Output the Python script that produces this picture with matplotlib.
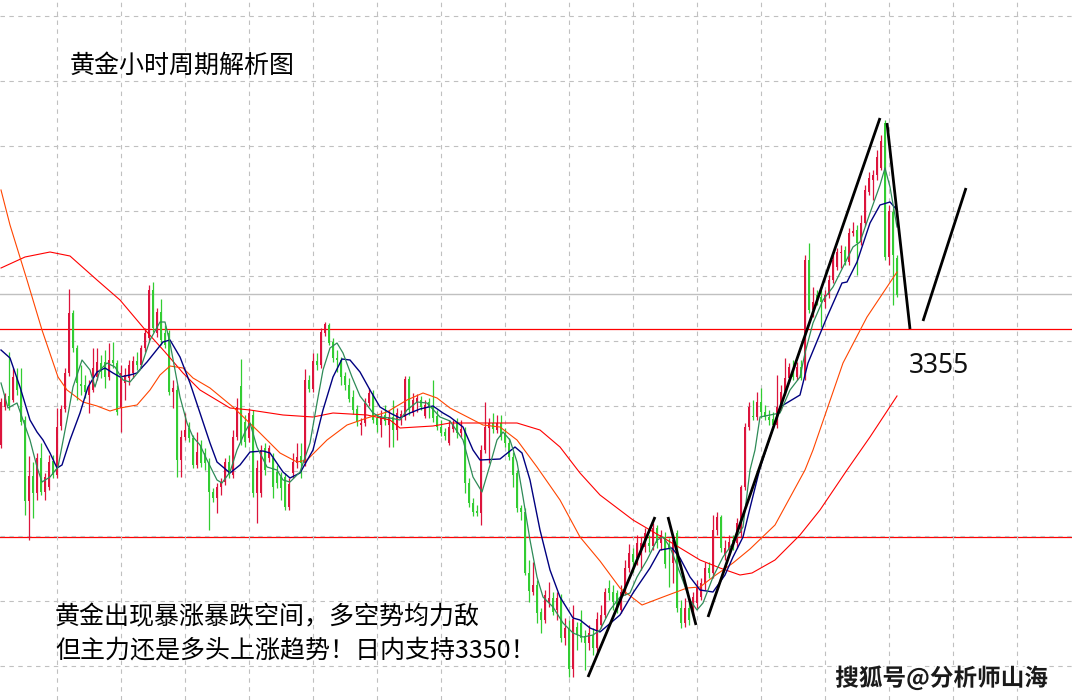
import numpy as np
import matplotlib.pyplot as plt
from matplotlib import patheffects

plt.rcParams['font.family'] = ['Noto Sans CJK SC', 'DejaVu Sans']

# hourly gold candles (red = up, green = down)
opens = [
    3343.5, 3347.3, 3348.4, 3348.0, 3350.4, 3349.0, 3346.0, 3337.9, 3340.4, 3338.7,
    3342.2, 3338.8, 3339.3, 3341.9, 3340.5, 3345.4, 3347.1, 3350.7, 3356.7, 3353.2,
    3349.6, 3349.5, 3348.5, 3349.0, 3350.3, 3351.7, 3351.8, 3350.3, 3352.0, 3351.7,
    3347.2, 3349.7, 3350.2, 3350.7, 3351.9, 3351.5, 3353.2, 3354.2, 3359.0, 3354.7,
    3356.8, 3354.7, 3354.7, 3348.8, 3349.0, 3342.0, 3344.3, 3345.2, 3344.2, 3341.5,
    3343.5, 3342.7, 3341.7, 3338.8, 3338.2, 3339.3, 3339.8, 3341.8, 3340.5, 3344.3,
    3349.4, 3345.8, 3344.2, 3346.5, 3338.7, 3338.7, 3343.2, 3342.2, 3342.2, 3340.8,
    3340.3, 3340.3, 3337.3, 3340.7, 3341.7, 3342.4, 3341.7, 3350.0, 3349.1, 3351.9,
    3351.5, 3354.7, 3355.5, 3353.8, 3352.2, 3352.0, 3350.4, 3349.5, 3348.3, 3347.1,
    3345.5, 3345.7, 3347.7, 3348.7, 3346.2, 3345.5, 3346.5, 3345.5, 3346.3, 3345.0,
    3346.3, 3346.3, 3350.1, 3346.7, 3347.8, 3348.0, 3346.4, 3347.8, 3347.3, 3346.4,
    3345.3, 3344.8, 3343.7, 3345.1, 3345.7, 3344.7, 3345.0, 3339.7, 3337.7, 3336.9,
    3336.7, 3343.0, 3345.2, 3345.7, 3345.0, 3345.7, 3344.7, 3343.7, 3342.3, 3340.7,
    3337.2, 3336.8, 3330.7, 3328.8, 3329.5, 3326.8, 3326.0, 3327.7, 3328.2, 3327.0,
    3328.2, 3324.2, 3325.2, 3321.1, 3325.3, 3325.7, 3324.4, 3323.7, 3324.5, 3323.2,
    3325.5, 3326.5, 3329.2, 3328.8, 3328.7, 3327.0, 3328.8, 3331.2, 3332.6, 3332.2,
    3332.5, 3333.3, 3333.7, 3333.4, 3335.2, 3333.7, 3334.3, 3333.5, 3331.7, 3334.7,
    3327.2, 3325.7, 3327.2, 3327.0, 3327.7, 3328.3, 3329.7, 3331.2, 3330.7, 3335.0,
    3336.3, 3332.5, 3333.0, 3334.0, 3333.7, 3334.7, 3339.3, 3345.3, 3346.4, 3346.3,
    3347.8, 3346.8, 3346.3, 3346.1, 3345.5, 3347.3, 3348.8, 3350.2, 3350.8, 3350.3,
    3351.3, 3350.2, 3362.0, 3357.0, 3358.5, 3358.3, 3357.8, 3358.5, 3360.0, 3361.3,
    3362.7, 3363.0, 3361.8, 3364.7, 3365.0, 3363.8, 3365.7, 3368.8, 3370.0, 3370.5,
    3371.2, 3375.7, 3362.3, 3366.8, 3362.2,
]
highs = [
    3348.2, 3348.7, 3352.8, 3351.2, 3351.2, 3351.2, 3346.4, 3342.4, 3341.8, 3342.7,
    3343.7, 3340.7, 3342.5, 3342.5, 3347.2, 3347.5, 3351.2, 3359.1, 3357.0, 3353.5,
    3351.5, 3350.5, 3350.0, 3353.2, 3353.2, 3352.5, 3353.0, 3353.7, 3353.8, 3352.0,
    3351.5, 3351.2, 3352.0, 3352.4, 3352.8, 3353.5, 3355.2, 3359.5, 3359.8, 3357.2,
    3358.1, 3355.5, 3355.0, 3350.0, 3349.5, 3345.0, 3346.7, 3345.8, 3344.5, 3344.8,
    3344.0, 3343.2, 3342.2, 3339.2, 3339.7, 3340.2, 3342.2, 3342.5, 3345.0, 3348.2,
    3352.1, 3346.5, 3347.2, 3347.0, 3342.0, 3343.5, 3343.7, 3343.5, 3342.7, 3341.5,
    3340.8, 3340.7, 3340.2, 3342.7, 3343.7, 3343.7, 3351.1, 3350.5, 3352.7, 3352.7,
    3355.2, 3355.8, 3355.7, 3354.2, 3353.0, 3352.3, 3350.8, 3350.2, 3349.0, 3347.5,
    3346.2, 3348.2, 3349.2, 3349.0, 3346.5, 3347.0, 3347.5, 3347.0, 3348.0, 3347.2,
    3347.0, 3350.4, 3350.4, 3348.7, 3348.6, 3348.4, 3348.0, 3348.2, 3350.0, 3347.0,
    3346.0, 3345.2, 3346.0, 3346.0, 3346.2, 3346.0, 3345.3, 3340.2, 3338.2, 3337.5,
    3343.5, 3347.8, 3346.2, 3346.7, 3346.5, 3346.5, 3345.2, 3344.2, 3342.8, 3341.0,
    3337.5, 3337.2, 3332.0, 3331.8, 3330.0, 3327.2, 3329.0, 3329.8, 3328.8, 3328.8,
    3328.6, 3326.2, 3326.0, 3327.5, 3325.8, 3327.0, 3325.0, 3325.5, 3325.2, 3326.8,
    3327.5, 3329.2, 3330.0, 3329.5, 3329.0, 3329.5, 3332.0, 3333.6, 3333.2, 3334.5,
    3334.3, 3335.2, 3334.5, 3335.7, 3335.5, 3335.0, 3334.8, 3334.2, 3334.5, 3335.0,
    3328.0, 3328.2, 3327.8, 3328.8, 3330.0, 3330.2, 3331.8, 3331.8, 3336.5, 3336.8,
    3336.5, 3334.0, 3334.5, 3334.5, 3336.2, 3339.5, 3345.7, 3347.8, 3348.0, 3348.8,
    3349.2, 3347.5, 3347.0, 3346.8, 3350.5, 3349.5, 3352.2, 3351.7, 3352.0, 3351.8,
    3352.0, 3362.5, 3363.7, 3359.3, 3359.0, 3359.0, 3359.0, 3360.5, 3362.5, 3363.2,
    3363.5, 3363.4, 3365.2, 3365.8, 3365.5, 3366.5, 3369.5, 3370.8, 3371.0, 3373.0,
    3374.5, 3376.0, 3367.5, 3367.2, 3362.5,
]
lows = [
    3343.2, 3347.0, 3347.0, 3347.8, 3348.5, 3345.5, 3336.5, 3334.0, 3336.2, 3338.0,
    3338.5, 3338.0, 3339.0, 3340.2, 3340.2, 3345.0, 3346.8, 3350.4, 3352.8, 3348.0,
    3348.5, 3348.2, 3346.7, 3348.8, 3350.0, 3350.2, 3349.2, 3350.0, 3351.2, 3346.5,
    3344.8, 3348.0, 3349.5, 3350.2, 3351.0, 3351.2, 3352.8, 3353.8, 3354.8, 3354.3,
    3353.5, 3353.2, 3348.5, 3347.2, 3340.3, 3340.3, 3344.0, 3343.8, 3341.2, 3341.2,
    3341.3, 3341.0, 3335.0, 3337.8, 3336.7, 3338.5, 3339.5, 3340.2, 3340.2, 3344.0,
    3343.5, 3343.3, 3343.8, 3338.3, 3335.7, 3338.3, 3340.5, 3341.8, 3338.2, 3339.2,
    3338.0, 3337.0, 3337.0, 3340.2, 3341.2, 3340.2, 3341.4, 3348.8, 3348.8, 3351.0,
    3351.2, 3354.4, 3353.5, 3351.8, 3350.8, 3349.5, 3349.0, 3347.8, 3346.6, 3345.4,
    3344.5, 3345.4, 3347.4, 3345.7, 3344.8, 3344.3, 3345.5, 3343.3, 3343.3, 3344.0,
    3345.5, 3346.0, 3346.5, 3346.4, 3346.8, 3347.0, 3346.2, 3346.2, 3345.8, 3345.0,
    3344.4, 3344.0, 3343.5, 3344.8, 3344.2, 3344.3, 3338.7, 3337.3, 3336.4, 3336.4,
    3335.5, 3342.7, 3341.7, 3344.7, 3344.7, 3344.0, 3343.3, 3342.0, 3339.3, 3336.8,
    3336.0, 3330.5, 3327.8, 3328.5, 3325.7, 3324.7, 3325.7, 3327.3, 3326.5, 3326.0,
    3323.8, 3323.5, 3320.3, 3320.3, 3323.0, 3323.8, 3321.0, 3323.0, 3322.5, 3322.8,
    3325.2, 3326.2, 3328.0, 3327.0, 3326.7, 3326.7, 3328.5, 3330.8, 3330.8, 3331.5,
    3331.0, 3332.8, 3332.8, 3333.0, 3333.2, 3333.0, 3331.2, 3329.3, 3329.7, 3326.8,
    3325.2, 3325.3, 3325.5, 3326.5, 3327.2, 3328.0, 3329.0, 3330.2, 3330.2, 3334.5,
    3332.8, 3332.0, 3332.5, 3333.0, 3333.2, 3334.3, 3339.0, 3345.0, 3346.0, 3346.0,
    3346.2, 3346.0, 3345.5, 3345.2, 3345.2, 3347.0, 3348.5, 3349.8, 3350.0, 3350.0,
    3350.0, 3350.0, 3356.7, 3356.3, 3357.5, 3355.3, 3357.2, 3358.2, 3359.7, 3361.0,
    3361.2, 3361.5, 3361.5, 3364.4, 3360.5, 3363.5, 3365.4, 3368.5, 3368.0, 3370.0,
    3371.0, 3362.0, 3361.5, 3357.5, 3358.3,
]
closes = [
    3347.8, 3348.4, 3347.4, 3350.3, 3349.0, 3345.8, 3337.9, 3340.4, 3338.7, 3342.2,
    3338.8, 3340.3, 3341.8, 3340.5, 3345.3, 3347.1, 3350.7, 3356.7, 3353.2, 3349.7,
    3349.4, 3348.8, 3349.3, 3351.2, 3351.8, 3350.8, 3350.3, 3352.0, 3351.7, 3346.8,
    3350.7, 3350.5, 3351.5, 3351.9, 3351.5, 3353.2, 3354.7, 3359.0, 3355.2, 3356.8,
    3354.0, 3353.5, 3348.8, 3349.2, 3342.0, 3344.3, 3345.0, 3344.2, 3341.5, 3342.8,
    3341.7, 3341.7, 3338.8, 3338.2, 3339.3, 3339.8, 3341.8, 3340.5, 3344.3, 3347.3,
    3343.8, 3343.8, 3346.7, 3338.7, 3341.2, 3343.0, 3341.0, 3343.2, 3339.3, 3339.7,
    3339.2, 3337.3, 3339.6, 3341.8, 3342.3, 3341.7, 3350.0, 3349.1, 3351.9, 3351.5,
    3354.8, 3355.6, 3353.7, 3352.2, 3352.0, 3350.3, 3349.5, 3348.1, 3347.0, 3345.8,
    3345.7, 3347.7, 3348.7, 3346.0, 3345.5, 3346.4, 3345.9, 3346.3, 3345.0, 3346.7,
    3346.6, 3350.1, 3347.0, 3348.0, 3348.2, 3347.3, 3347.5, 3347.3, 3346.2, 3345.3,
    3344.7, 3344.4, 3345.3, 3345.5, 3344.7, 3345.1, 3339.7, 3337.7, 3336.8, 3336.7,
    3343.0, 3345.3, 3345.7, 3345.1, 3345.7, 3344.3, 3343.7, 3342.3, 3340.5, 3337.2,
    3336.8, 3330.7, 3328.9, 3329.5, 3326.7, 3326.0, 3328.5, 3328.2, 3326.8, 3328.2,
    3324.2, 3325.2, 3321.1, 3326.1, 3324.5, 3324.2, 3323.7, 3324.7, 3323.2, 3326.1,
    3326.5, 3328.8, 3328.7, 3327.8, 3327.0, 3328.8, 3331.2, 3332.7, 3331.8, 3333.7,
    3333.7, 3334.7, 3333.4, 3335.2, 3333.7, 3334.5, 3331.6, 3333.2, 3334.0, 3327.2,
    3325.7, 3327.2, 3326.0, 3328.3, 3329.3, 3329.7, 3331.2, 3330.7, 3335.0, 3336.3,
    3333.2, 3333.2, 3333.8, 3333.5, 3335.7, 3339.3, 3345.3, 3347.3, 3346.3, 3347.8,
    3346.8, 3346.3, 3346.0, 3345.5, 3347.3, 3348.8, 3350.2, 3351.3, 3350.3, 3351.3,
    3350.2, 3362.0, 3357.0, 3357.8, 3357.8, 3357.8, 3358.5, 3360.0, 3362.0, 3362.8,
    3362.8, 3361.8, 3364.7, 3364.9, 3363.7, 3365.7, 3369.0, 3370.2, 3370.5, 3372.3,
    3373.9, 3362.3, 3366.9, 3362.5, 3358.5,
]

# moving averages, read at points along each line (x = candle index)
ma_fast_x = [0, 1.75, 4, 5.5, 7.25, 9, 10.25, 12.25, 14.25, 16.5, 18, 20.25, 22.25, 23.5, 24.75,
             26.5, 28.5, 30.5, 32.25, 34.75, 37.25, 39.75, 41, 42.25, 44.75, 46.5, 48, 49.75, 51.5,
             54, 55.25, 57.25, 59, 61, 62.25, 64, 66.5, 69, 70.5, 72.25, 74.75, 77.25, 79, 80.5,
             82.25, 84, 85.5, 87.75, 89.75, 91.5, 93, 94.75, 97.25, 99.75, 101.5, 104, 106.5,
             109.75, 112.25, 115.5, 118, 120.25, 122.25, 124, 125.5, 127.25, 129, 130.5, 132.25,
             134, 135.5, 138, 140.5, 143, 145.5, 148, 149.75, 152.25, 154.75, 157.25, 159, 161.5,
             164, 165.5, 167.25, 169.75, 172.25, 174, 175.5, 178, 180.5, 183, 185.5, 187.25, 188.5,
             189.75, 194.75, 197.25, 199.75, 201, 203, 205.5, 208, 210.5, 213, 214.75, 217.25,
             219.75, 221, 222.25, 224]
ma_fast = [3349.7, 3347.2, 3347.7, 3346.0, 3344.0, 3341.3, 3339.8, 3340.3, 3341.3, 3346.0, 3349.3,
           3352.0, 3351.0, 3349.3, 3351.0, 3351.7, 3351.3, 3350.0, 3349.8, 3351.0, 3354.0, 3355.8,
           3355.8, 3353.7, 3348.3, 3345.7, 3344.3, 3343.5, 3342.0, 3340.0, 3339.7, 3340.8, 3343.0,
           3344.8, 3345.7, 3343.3, 3341.3, 3341.0, 3340.0, 3339.8, 3340.8, 3343.7, 3347.7, 3351.0,
           3353.2, 3353.7, 3352.7, 3350.3, 3348.4, 3347.5, 3346.7, 3346.3, 3346.2, 3346.0, 3347.0,
           3347.8, 3347.7, 3346.3, 3345.9, 3344.0, 3340.3, 3338.8, 3341.5, 3344.0, 3344.8, 3344.0,
           3341.8, 3338.3, 3334.0, 3330.3, 3328.3, 3327.3, 3325.7, 3324.7, 3324.3, 3324.5, 3325.0,
           3327.0, 3328.3, 3328.7, 3330.3, 3332.0, 3334.0, 3334.3, 3333.3, 3330.7, 3328.0, 3327.0,
           3327.7, 3330.3, 3332.3, 3333.7, 3335.3, 3341.0, 3343.0, 3346.3, 3346.7, 3349.0, 3350.3,
           3352.7, 3355.7, 3358.0, 3359.3, 3361.3, 3363.3, 3363.8, 3366.7, 3369.5, 3371.2, 3369.3,
           3365.3]

ma_mid_x = [0, 2.25, 4.75, 7.25, 9, 10.5, 12.25, 14, 15.25, 17.25, 19.75, 21.75, 24, 26, 28, 29.75,
            32.25, 34, 36.5, 40.5, 42.25, 44.75, 47.25, 49.75, 52.25, 54, 57.25, 59.75, 62.25, 65.5,
            67.25, 70.5, 72.25, 74.75, 78, 80.5, 83, 85.25, 87.25, 89.75, 92.25, 94.75, 97.25, 99.75,
            102.25, 104.75, 108, 110.5, 112.25, 115.5, 118, 119.75, 124.75, 128.5, 130.25, 132.25,
            134.75, 137.25, 139.75, 143, 144.75, 147.25, 149.75, 154.75, 158, 162.25, 164.75, 167.75,
            169.75, 172.25, 174.75, 178, 181, 183, 185.5, 187.25, 189.75, 194.75, 199.75, 201.75,
            206.5, 210.25, 211.5, 214, 217.25, 219.75, 222.25, 224]
ma_mid = [3353.0, 3352.2, 3349.3, 3346.0, 3344.8, 3344.0, 3342.7, 3341.2, 3341.5, 3344.0, 3346.7,
          3349.3, 3350.8, 3351.2, 3350.7, 3350.3, 3350.5, 3350.7, 3351.8, 3353.8, 3354.0, 3352.3,
          3349.7, 3346.7, 3343.7, 3341.8, 3340.7, 3341.5, 3342.8, 3342.9, 3342.7, 3340.8, 3340.2,
          3340.7, 3343.0, 3347.0, 3350.3, 3352.1, 3352.0, 3350.8, 3349.0, 3347.3, 3346.7, 3346.2,
          3346.7, 3347.1, 3347.4, 3346.7, 3346.3, 3345.3, 3343.0, 3342.0, 3342.1, 3343.3, 3342.7,
          3340.0, 3335.0, 3331.0, 3328.3, 3326.2, 3326.0, 3325.2, 3324.8, 3326.5, 3328.7, 3331.2,
          3333.0, 3333.2, 3332.2, 3330.3, 3329.0, 3328.8, 3330.5, 3332.3, 3334.3, 3337.2, 3341.2,
          3347.3, 3348.5, 3351.7, 3356.3, 3359.7, 3359.8, 3361.8, 3365.7, 3367.5, 3367.8, 3367.0]

ma_slow_x = [0, 2.25, 6.5, 10.25, 14.25, 16.5, 20.5, 24, 27.25, 29.75, 34, 37.25, 39.75, 42.25, 45.5,
             48, 52.25, 58, 64.75, 69.75, 74, 76.5, 81.5, 86.5, 91.5, 96.5, 101.5, 105.5, 109, 112.25,
             120.5, 124.75, 129, 134, 139.75, 144.75, 149.75, 154.75, 160.25, 165.5, 171.5, 174.75,
             178, 183, 187.25, 193.5, 201, 203, 210.5, 216.5, 224]
ma_slow = [3369.0, 3365.5, 3360.0, 3355.0, 3350.3, 3349.0, 3347.8, 3347.4, 3346.9, 3347.2, 3347.5,
           3349.0, 3350.5, 3351.4, 3351.2, 3350.2, 3349.2, 3347.3, 3344.7, 3342.7, 3341.8, 3342.0,
           3344.0, 3345.5, 3346.2, 3346.8, 3348.0, 3348.7, 3348.2, 3347.2, 3345.5, 3345.3, 3344.0,
           3341.3, 3338.0, 3334.3, 3331.9, 3329.2, 3327.5, 3328.3, 3329.2, 3329.3, 3330.3, 3331.7,
           3333.1, 3335.5, 3341.0, 3343.0, 3351.7, 3356.3, 3360.8]

ma_long_x = [0, 6, 12.25, 17.25, 24, 29.75, 36.5, 41, 45.5, 49.75, 57.25, 62.25, 70.5, 78, 83, 91.5,
             97.25, 99.75, 108, 112.25, 129, 134.75, 139.75, 144.75, 149.75, 158, 166.5, 174.75,
             179.75, 184.75, 187.75, 193.5, 199.75, 204.75, 211.5, 217.25, 224]
ma_long = [3361.2, 3362.3, 3362.8, 3362.4, 3360.0, 3358.0, 3354.8, 3352.8, 3350.7, 3349.0, 3347.2,
           3347.0, 3346.5, 3346.3, 3346.7, 3346.5, 3346.0, 3345.2, 3345.4, 3345.7, 3345.7, 3345.0,
           3343.3, 3340.7, 3338.5, 3336.0, 3334.0, 3332.0, 3331.2, 3330.5, 3330.7, 3332.0, 3334.5,
           3337.0, 3341.0, 3344.3, 3348.4]

# hand drawn trend strokes (start, end)
trend_x = [[146.75, 163.5], [166.75, 173.75], [176.75, 219.75], [221.5, 227.25], [230.5, 241.25]]
trend_y = [[3320.3, 3336.3], [3336.3, 3325.5], [3326.3, 3376.2], [3375.7, 3355.1], [3355.9, 3369.2]]

levels_red = [3355.1, 3334.3]
level_grey = 3358.6

fig = plt.figure(figsize=(10.72, 7.0), dpi=100)
ax = fig.add_axes([0, 0, 1, 1])
ax.set_xlim(-0.25, 267.75)
ax.set_ylim(3318.0, 3388.0)
ax.set_xticks(np.arange(14, 268, 16))
ax.set_yticks(np.arange(3321.4, 3388, 6.5))
ax.grid(True, color='#c0c0c0', linestyle=(0, (4, 4)), linewidth=0.8, zorder=0)
ax.tick_params(length=0, labelbottom=False, labelleft=False)
for s in ax.spines.values():
    s.set_visible(False)

for lv in levels_red:
    ax.axhline(lv, color='#ff0000', lw=0.9, zorder=1)
ax.axhline(level_grey, color='#c0c0c0', lw=1.0, zorder=1)

# candles
o, h, l, c = map(np.array, (opens, highs, lows, closes))
idx = np.arange(len(o))
col = np.where(c >= o, '#dc143c', '#32cd32')
ax.vlines(idx, l, h, colors=col, lw=0.9, zorder=3)
body_h = np.maximum(np.abs(c - o), 0.12)
ax.bar(idx, body_h, bottom=np.minimum(o, c), width=0.74, color=col, linewidth=0, zorder=4)

# moving averages
ax.plot(ma_long_x, ma_long, color='#ff0000', lw=0.8, zorder=5)
ax.plot(ma_slow_x, ma_slow, color='#ff4500', lw=0.8, zorder=5)
ax.plot(ma_mid_x, ma_mid, color='#000080', lw=1.0, zorder=5)
ax.plot(ma_fast_x, ma_fast, color='#2e8b57', lw=0.9, zorder=5)

for tx, ty in zip(trend_x, trend_y):
    ax.plot(tx, ty, color='black', lw=2.0, solid_capstyle='butt', zorder=6)

# texts
fig.text(70 / 1072, 1 - 66 / 700, '黄金小时周期解析图', fontsize=18, va='center', ha='left')
fig.text(909 / 1072, 1 - 366 / 700, '3355', fontsize=19, va='center', ha='left',
         family=['Noto Sans', 'DejaVu Sans'], color='#111111')
fig.text(55 / 1072, 1 - 617 / 700, '黄金出现暴涨暴跌空间，多空势均力敌', fontsize=18, va='center', ha='left')
fig.text(55 / 1072, 1 - 650 / 700, '但主力还是多头上涨趋势！日内支持3350！', fontsize=18, va='center', ha='left')
fig.text(1048 / 1072, 1 - 678 / 700, '搜狐号@分析师山海', fontsize=17, va='center', ha='right',
         color='#1a1a1a', fontweight='bold',
         path_effects=[patheffects.withStroke(linewidth=3, foreground='white')])

plt.savefig('out.png', dpi=100)
